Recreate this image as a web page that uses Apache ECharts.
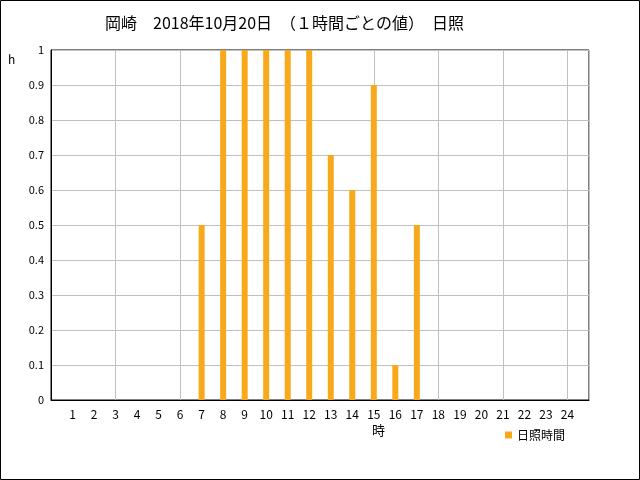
<!DOCTYPE html>
<html><head><meta charset="utf-8">
<script src="https://cdn.jsdelivr.net/npm/echarts@6/dist/echarts.min.js"></script>
<style>html,body{margin:0;padding:0;background:#fff}#c{width:640px;height:480px}</style>
</head><body><div id="c"></div>
<script>
const titleText = '岡崎　2018年10月20日　（１時間ごとの値）　日照';
const hours = [1,2,3,4,5,6,7,8,9,10,11,12,13,14,15,16,17,18,19,20,21,22,23,24];
const sunshine = [0,0,0,0,0,0,0.5,1,1,1,1,1,0.7,0.6,0.9,0.1,0.5,0,0,0,0,0,0,0];
const seriesName = '日照時間';
const yUnit = 'h';
const xUnit = '時';

const FONT = '"Noto Sans CJK JP", sans-serif';
const chart = echarts.init(document.getElementById('c'), null, {renderer:'canvas'});
chart.setOption({
  animation:false,
  backgroundColor:'#fff',
  textStyle:{fontFamily:FONT},
  title:{text:titleText,left:100,top:10,textStyle:{fontFamily:FONT,fontSize:16,fontWeight:'normal',color:'#000'}},
  legend:{data:[seriesName],left:500,top:424,icon:'rect',itemWidth:7,itemHeight:7,itemGap:4,
    textStyle:{fontFamily:FONT,fontSize:12,color:'#000'}},
  grid:{left:51,right:51,top:50,height:350,show:true,borderColor:'#000',borderWidth:1,backgroundColor:'transparent'},
  xAxis:[
    {type:'value',min:0,max:25,interval:1,
     axisLine:{show:true,lineStyle:{color:'#000'}},axisTick:{show:false},splitLine:{show:false},
     axisLabel:{color:'#000',fontSize:12,margin:8,fontFamily:FONT,showMinLabel:true,showMaxLabel:true,
       formatter:v=>(v>=1&&v<=24)?String(hours[v-1]):''}},
    {type:'value',min:0,max:25,interval:3,position:'bottom',
     axisLine:{show:false},axisTick:{show:false},axisLabel:{show:false},
     splitLine:{show:true,lineStyle:{color:'#c0c0c0',width:1}}}
  ],
  yAxis:{type:'value',min:0,max:1,interval:0.1,
    axisLine:{show:true,lineStyle:{color:'#000'}},axisTick:{show:false},
    splitLine:{show:true,lineStyle:{color:'#c0c0c0',width:1}},
    axisLabel:{color:'#000',fontSize:11,margin:7,fontFamily:FONT,
      formatter:v=>{const r=Math.round(v*10)/10;return (r===0||r===1)?String(r):r.toFixed(1);}}},
  series:[{name:seriesName,type:'bar',xAxisIndex:0,barWidth:6,
    itemStyle:{color:'#F7A81B'},
    data:hours.map((h,i)=>[h,sunshine[i]])}],
  graphic:[
    {type:'rect',shape:{x:0.5,y:0.5,width:639,height:479},style:{fill:'none',stroke:'#000',lineWidth:1},silent:true},
    {type:'text',left:8,top:53,style:{text:yUnit,font:'12px '+FONT,fill:'#000'}},
    {type:'text',left:372,top:424,style:{text:xUnit,font:'13px '+FONT,fill:'#000'}}
  ]
});
</script></body></html>
